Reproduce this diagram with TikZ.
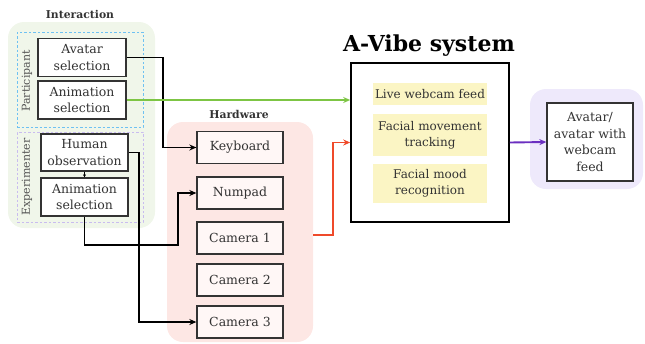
\documentclass[tikz,border=0pt]{standalone}
\usepackage{fontspec}
\setmainfont{DejaVu Serif}
\usetikzlibrary{arrows.meta,positioning}

\definecolor{txt}{HTML}{333333}
\definecolor{greenbg}{HTML}{F0F6EA}
\definecolor{bluedash}{HTML}{6EC1F2}
\definecolor{lavdash}{HTML}{C9BCEF}
\definecolor{pinkbg}{HTML}{FDE7E4}
\definecolor{hwfill}{HTML}{FFF7F6}
\definecolor{yel}{HTML}{FBF5C4}
\definecolor{purbg}{HTML}{EEE9FB}
\definecolor{greenln}{HTML}{7DC544}
\definecolor{redln}{HTML}{EF4A2A}
\definecolor{purln}{HTML}{6B2FC0}

\tikzset{
  region/.style={rounded corners=16pt, draw=none, inner sep=0pt},
  group/.style={draw, dashed, dash pattern=on 2.5pt off 2pt, line width=0.9pt, inner sep=0pt},
  box/.style={draw=txt, line width=1.3pt, fill=white, text=txt, align=center,
    font=\fontsize{12.5}{16.5}\selectfont, inner sep=0pt},
  hwbox/.style={box, fill=hwfill, minimum width=86pt, minimum height=32pt},
  featbox/.style={fill=yel, text=txt, align=center, inner sep=0pt,
    font=\fontsize{12}{16}\selectfont, minimum width=114pt},
  heading/.style={font=\bfseries\fontsize{10.8}{13}\selectfont, text=txt},
  sidelabel/.style={rotate=90, text=txt!85, font=\fontsize{11}{13}\selectfont},
  link/.style={line width=1.9pt, -{Stealth[length=7pt,width=6pt]}},
}

\begin{document}
\begin{tikzpicture}[x=1pt, y=-1pt]
\useasboundingbox (0,0) rectangle (645,343);

% background regions
\node[region, fill=greenbg, minimum width=147pt, minimum height=206pt] (interbg) at (81.5,125) {};
\node[region, fill=pinkbg, minimum width=146pt, minimum height=220pt] (hwbg) at (240,232) {};
\node[region, fill=purbg, minimum width=113pt, minimum height=100pt] (outbg) at (586.5,139) {};

% headings
\node[heading] (interttl) at (80,14) {Interaction};
\node[heading] (hwttl) at (239,114) {Hardware};
\node[font=\bfseries\fontsize{22}{26}\selectfont, text=black] (systtl) at (429,46) {A-Vibe system};

% participant / experimenter groups
\node[group, draw=bluedash, minimum width=126pt, minimum height=95pt] (partgrp) at (80,79.5) {};
\node[group, draw=lavdash, minimum width=126pt, minimum height=90pt] (expgrp) at (80,177) {};
\node[sidelabel] (partlbl) at (27,81) {Participant};
\node[sidelabel] (explbl) at (27,177) {Experimenter};

% interaction boxes
\node[box, minimum width=88pt, minimum height=38pt] (avsel) at (82,57.5) {Avatar\\selection};
\node[box, minimum width=88pt, minimum height=38pt] (anP) at (82,100) {Animation\\selection};
\node[box, minimum width=87pt, minimum height=37pt] (hobs) at (84.5,152.5) {Human\\observation};
\node[box, minimum width=87pt, minimum height=38pt] (anE) at (84.5,197) {Animation\\selection};

% hardware boxes
\node[hwbox] (kbd) at (240,147.5) {Keyboard};
\node[hwbox] (num) at (240,193) {Numpad};
\node[hwbox] (cam1) at (240,238) {Camera 1};
\node[hwbox] (cam2) at (240,280) {Camera 2};
\node[hwbox] (cam3) at (240,322) {Camera 3};

% A-Vibe system
\node[draw=black, line width=1.6pt, fill=white, minimum width=158pt, minimum height=159pt, inner sep=0pt] (avibe) at (430,142.5) {};
\node[featbox, minimum height=22pt] (live) at (430,94) {Live webcam feed};
\node[featbox, minimum height=42pt] (track) at (430,135) {Facial movement\\tracking};
\node[featbox, minimum height=39pt] (mood) at (430,183.5) {Facial mood\\recognition};

% output
\node[box, minimum width=86pt, minimum height=78pt] (out) at (590,142) {Avatar/\\avatar with\\webcam\\feed};

% connectors
\coordinate (j1) at (178,245);
\draw[link, black] (avsel.east) -- ++(36,0) |- (kbd.west);
\draw[link, greenln] (anP.east) -- (avibe.west |- anP.east);
\draw[link, black] (hobs.east) -- ++(10.5,0) |- (cam3.west);
\draw[link, black] (anE.south) |- (j1) |- (num.west);
\draw[line width=0.8pt, -{Stealth[length=3pt,width=3pt]}] (hobs.south) -- (anE.north);
\draw[link, redln] (hwbg.east) ++(0,3) -- ++(20,0) |- (avibe.west);
\draw[link, purln] (avibe.east) -- (out.west);
\end{tikzpicture}
\end{document}
